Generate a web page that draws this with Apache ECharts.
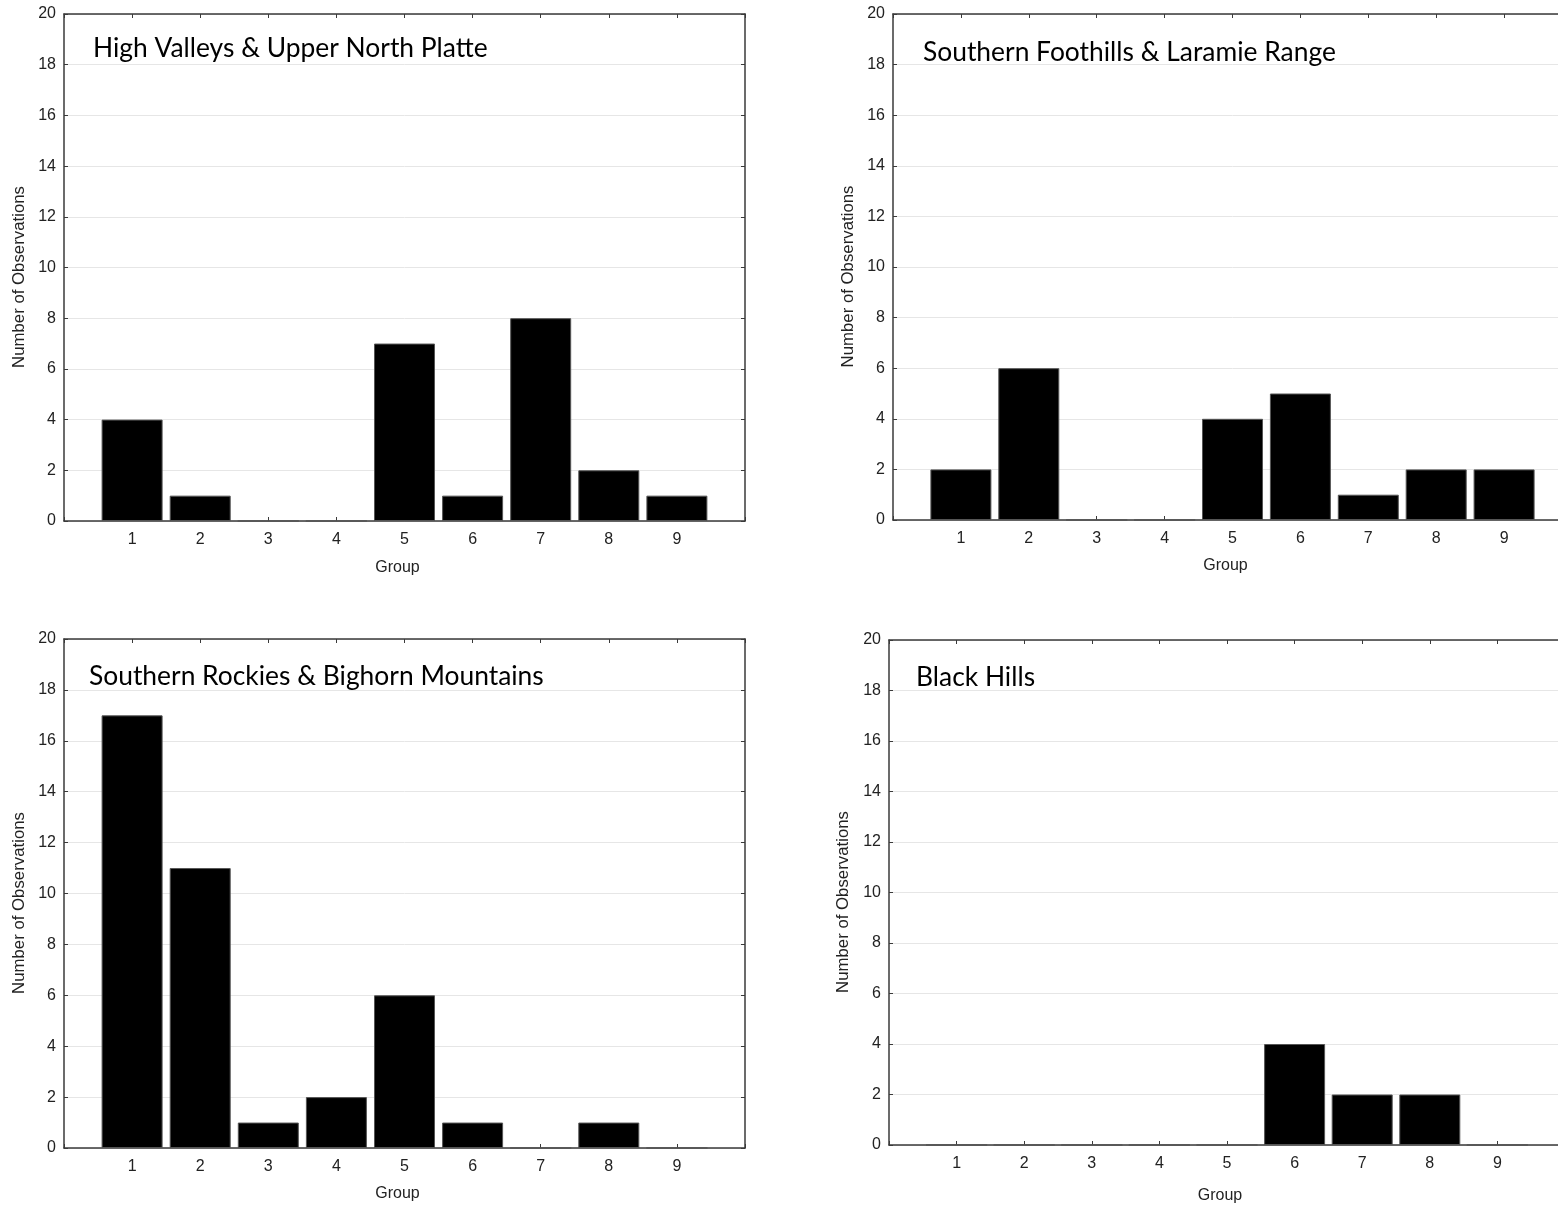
<!DOCTYPE html>
<html>
<head>
<meta charset="utf-8">
<script src="https://cdn.jsdelivr.net/npm/echarts@6/dist/echarts.min.js"></script>
<style>
html,body{margin:0;padding:0;background:#fff;overflow:hidden;}
#chart{width:1600px;height:1207px;}
</style>
</head>
<body>
<div id="chart"></div>
<script>
const groups = [1, 2, 3, 4, 5, 6, 7, 8, 9];
const panelTitles = [
  "High Valleys & Upper North Platte",
  "Southern Foothills & Laramie Range",
  "Southern Rockies & Bighorn Mountains",
  "Black Hills"
];
const highValleys = [4, 1, 0, 0, 7, 1, 8, 2, 1];
const southernFoothills = [2, 6, 0, 0, 4, 5, 1, 2, 2];
const southernRockies = [17, 11, 1, 2, 6, 1, 0, 1, 0];
const blackHills = [0, 0, 0, 0, 0, 4, 2, 2, 0];
const yTicks = [0, 2, 4, 6, 8, 10, 12, 14, 16, 18, 20];
const seriesValues = [highValleys, southernFoothills, southernRockies, blackHills];

const grids = [
  {left: 64, top: 14, width: 681, height: 507, titleLeft: 88, titleTop: 30, xGap: 39, yGap: 36},
  {left: 893, top: 14, width: 679, height: 506, titleLeft: 918, titleTop: 34, xGap: 38, yGap: 36},
  {left: 64, top: 639, width: 681, height: 509, titleLeft: 84, titleTop: 658, xGap: 38, yGap: 36},
  {left: 889, top: 640, width: 676, height: 505, titleLeft: 911, titleTop: 659, xGap: 43, yGap: 37}
];

const axisColor = '#3a3a3a';
const fontFam = '"Liberation Sans", Arial, sans-serif';
const labelFont = {fontFamily: fontFam, fontSize: 16, color: '#222'};

const option = {
  animation: false,
  backgroundColor: '#fff',
  title: [],
  grid: [],
  xAxis: [],
  yAxis: [],
  series: []
};

grids.forEach((g, i) => {
  option.grid.push({left: g.left, top: g.top, width: g.width, height: g.height, containLabel: false});
  option.title.push({
    text: panelTitles[i], left: g.titleLeft, top: g.titleTop,
    textStyle: {fontFamily: 'Lato, "Open Sans", sans-serif', fontSize: 26.4, fontWeight: 'normal', color: '#000'}
  });
  // bottom x axis
  option.xAxis.push({
    gridIndex: i, type: 'value', min: 0, max: groups.length + 1, interval: 1, position: 'bottom',
    name: 'Group', nameLocation: 'middle', nameGap: g.xGap,
    nameTextStyle: {fontFamily: fontFam, fontSize: 16, color: '#222', padding: [0, 14, 0, 0]},
    axisLine: {show: true, onZero: false, lineStyle: {color: axisColor, width: 1.5}},
    axisTick: {show: true, inside: true, length: 4, lineStyle: {color: axisColor}},
    axisLabel: Object.assign({margin: 11, formatter: v => (groups.indexOf(v) >= 0 ? String(v) : '')}, labelFont),
    splitLine: {show: false}
  });
  // top x axis (box)
  option.xAxis.push({
    gridIndex: i, type: 'value', min: 0, max: groups.length + 1, interval: 1, position: 'top',
    axisLine: {show: true, onZero: false, lineStyle: {color: axisColor, width: 1.5}},
    axisTick: {show: true, inside: true, length: 4, lineStyle: {color: axisColor}},
    axisLabel: {show: false}, splitLine: {show: false}
  });
  option.yAxis.push({
    gridIndex: i, type: 'value', min: yTicks[0], max: yTicks[yTicks.length - 1], interval: 2, position: 'left',
    name: 'Number of Observations', nameLocation: 'middle', nameGap: g.yGap, nameRotate: 90,
    nameTextStyle: {fontFamily: fontFam, fontSize: 16.8, color: '#222', padding: [0, 19, 0, 0]},
    axisLine: {show: true, onZero: false, lineStyle: {color: axisColor, width: 1.5}},
    axisTick: {show: true, inside: true, length: 4, lineStyle: {color: axisColor}},
    axisLabel: Object.assign({margin: 8}, labelFont),
    splitLine: {show: true, lineStyle: {color: '#e6e6e6', width: 1}}
  });
  option.yAxis.push({
    gridIndex: i, type: 'value', min: yTicks[0], max: yTicks[yTicks.length - 1], interval: 2, position: 'right',
    axisLine: {show: true, onZero: false, lineStyle: {color: axisColor, width: 1.5}},
    axisTick: {show: true, inside: true, length: 4, lineStyle: {color: axisColor}},
    axisLabel: {show: false}, splitLine: {show: false}
  });
  option.series.push({
    type: 'bar', xAxisIndex: i * 2, yAxisIndex: i * 2,
    data: groups.map((gr, k) => [gr, seriesValues[i][k]]),
    barWidth: 61,
    itemStyle: {color: '#000', borderColor: '#555', borderWidth: 1},
    z: 1
  });
});

const chart = echarts.init(document.getElementById('chart'), null, {renderer: 'canvas'});
chart.setOption(option);
</script>
</body>
</html>
